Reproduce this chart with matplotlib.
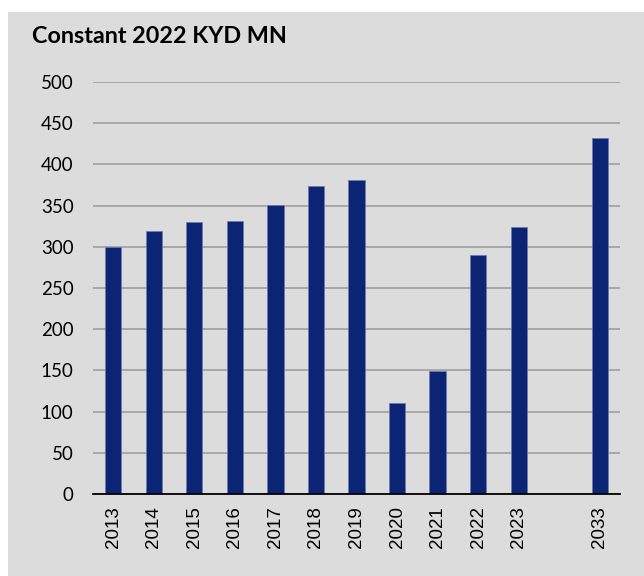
import numpy as np
import matplotlib
matplotlib.use("Agg")
import matplotlib.pyplot as plt
from matplotlib.patches import Rectangle

categories = ['2013', '2014', '2015', '2016', '2017', '2018', '2019',
              '2020', '2021', '2022', '2023', '', '2033']
values = [300, 319, 330, 331, 351, 374, 381, 110, 149, 290, 324, np.nan, 432]
yticks = [0, 50, 100, 150, 200, 250, 300, 350, 400, 450, 500]
title = 'Constant 2022 KYD MN'

W, H = 644, 576
fig = plt.figure(figsize=(W / 100, H / 100), dpi=100, facecolor='white')
bg = '#dcdcdc'
fig.patches.append(Rectangle((8 / W, 0), 1 - 8 / W, 1 - 12 / H,
                             transform=fig.transFigure, facecolor=bg,
                             edgecolor='none', zorder=-10))

ax = fig.add_axes([93 / W, (H - 494) / H, (620 - 93) / W, (494 - 82) / H])
ax.set_facecolor('none')

x = np.arange(len(categories))
ax.bar(x, values, width=0.4, color='#0c2474', edgecolor='#6c7cb0',
       linewidth=0.5, zorder=3)

ax.set_xlim(-0.5, len(categories) - 0.5)
ax.set_ylim(0, 500)
ax.set_yticks(yticks)
ax.set_yticklabels([str(t) for t in yticks], fontfamily='Lato', fontsize=13.5)
ax.set_xticks([i for i, c in enumerate(categories) if c])
ax.set_xticklabels([c for c in categories if c], rotation=90,
                   fontfamily='Liberation Sans', fontsize=13.5)
ax.tick_params(axis='y', length=0, pad=14)
ax.tick_params(axis='x', length=0, pad=9)

ax.grid(axis='y', color='#9a9a9a', linewidth=1.1, zorder=0)
for s in ['top', 'right', 'left']:
    ax.spines[s].set_visible(False)
ax.spines['bottom'].set_color('black')
ax.spines['bottom'].set_linewidth(1.3)
ax.spines['bottom'].set_zorder(4)

fig.text(32 / W, 1 - 43 / H, title, fontfamily='Lato', fontweight='bold',
         fontsize=16.8, color='black', ha='left', va='baseline')

fig.savefig('out.png', dpi=100, facecolor=fig.get_facecolor())
